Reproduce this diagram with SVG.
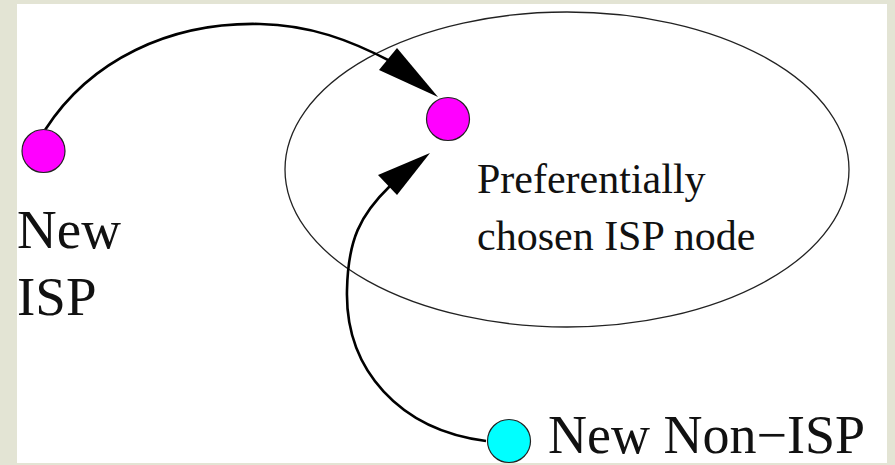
<svg xmlns="http://www.w3.org/2000/svg" width="895" height="465" viewBox="0 0 895 465">
<style>
.bg{fill:#e3e4d4}
.panel{fill:#ffffff}
.region{fill:none;stroke:#222;stroke-width:1.3}
.node{stroke:#222;stroke-width:1.2}
.isp{fill:#ff00ff}
.nonisp{fill:#00ffff}
.edge{fill:none;stroke:#000;stroke-width:2.6}
.head{fill:#000}
.lbl{font-family:"Liberation Serif","Times New Roman",serif;fill:#111}
.big{font-size:55px}
.mid{font-size:42px}
</style>
<rect class="bg" x="0" y="0" width="895" height="465"/>
<rect class="panel" x="17" y="4" width="870" height="459"/>
<g id="region">
<ellipse class="region" cx="567" cy="169.5" rx="282" ry="157.5"/>
<text class="lbl mid" x="477" y="193">Preferentially</text>
<text class="lbl mid" x="477" y="250">chosen ISP node</text>
</g>
<g id="connectors">
<path class="edge" d="M 45 130 C 90 60, 170 22, 260 24 C 310 25, 350 40, 392 62"/>
<polygon class="head" points="438,97 397,48 379,70"/>
<path class="edge" d="M 486 441 C 400 430, 345 370, 347 290 C 348 240, 360 215, 390 186"/>
<polygon class="head" points="430,153 378,175 397,195"/>
</g>
<g id="new-isp">
<circle class="node isp" cx="43.5" cy="151" r="21.5"/>
<text class="lbl big" x="17" y="248">New</text>
<text class="lbl big" x="17" y="315">ISP</text>
</g>
<g id="chosen-isp">
<circle class="node isp" cx="448" cy="119" r="21.5"/>
</g>
<g id="new-non-isp">
<circle class="node nonisp" cx="509" cy="441" r="21.5"/>
<text class="lbl" x="548" y="453" style="font-size:54px">New Non−ISP</text>
</g>
</svg>
